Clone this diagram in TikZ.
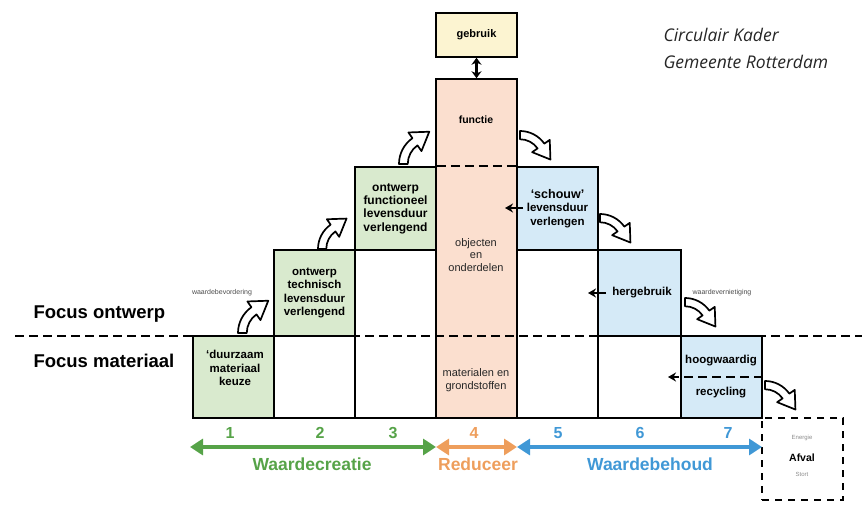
\documentclass[tikz,border=0pt]{standalone}
\usepackage{fontspec}
\setmainfont{Liberation Sans}
\newfontfamily\titelfont{Open Sans}
\usetikzlibrary{arrows.meta}

\definecolor{groenvlak}{RGB}{217,234,206}
\definecolor{roze}{RGB}{251,223,207}
\definecolor{blauwvlak}{RGB}{213,234,247}
\definecolor{geel}{RGB}{252,244,209}
\definecolor{groen}{RGB}{86,163,72}
\definecolor{oranje}{RGB}{238,158,92}
\definecolor{blauw}{RGB}{64,152,214}

\tikzset{
  vak/.style={draw, line width=1.5pt, inner sep=0pt, align=center,
    font=\bfseries\fontsize{11.5}{13.3}\selectfont},
  tekst/.style={align=center, font=\fontsize{11}{12.5}\selectfont, text=black!85},
  streep/.style={line width=2pt, dash pattern=on 9pt off 5pt},
  kortpijl/.style={line width=2.2pt, -{Stealth[length=8pt,width=9pt]}},
  balk/.style={line width=4pt, {Triangle[length=13pt,width=16pt]}-{Triangle[length=13pt,width=16pt]}},
  cijfer/.style={font=\bfseries\fontsize{16}{16}\selectfont},
  fase/.style={font=\bfseries\fontsize{17.5}{18}\selectfont},
  klein/.style={font=\fontsize{7}{7}\selectfont, text=black!70},
  pics/bocht/.style={code={
    \filldraw[fill=white, line width=1.7pt, line join=round, yscale=-1]
      (5,0) arc[start angle=180, end angle=125, radius=13] -- (12.84,7.37)
      -- (17.30,18.44) -- (5.38,18.02) -- (7.67,14.74)
      arc[start angle=125, end angle=180, radius=18] -- cycle;
  }}
}

\begin{document}
\begin{tikzpicture}[x=1pt, y=-1pt]
\useasboundingbox (0,0) rectangle (868,505);

% kolommen
\node[vak, fill=groenvlak, minimum width=81pt, minimum height=82pt] (c1) at (233.5,377) {};
\node[vak, fill=groenvlak, minimum width=81pt, minimum height=86pt] (c2top) at (314.5,293)
  {ontwerp\\technisch\\levensduur\\verlengend};
\node[vak, minimum width=81pt, minimum height=82pt] (c2bot) at (314.5,377) {};
\node[vak, fill=groenvlak, minimum width=81pt, minimum height=83pt, font=\bfseries\fontsize{12}{13.3}\selectfont] (c3top) at (395.5,208.5)
  {ontwerp\\functioneel\\levensduur\\verlengend};
\node[vak, minimum width=81pt, minimum height=168pt] (c3bot) at (395.5,334) {};
\node[vak, fill=roze, minimum width=81pt, minimum height=339pt] (c4) at (476.5,248.5) {};
\node[vak, fill=geel, minimum width=81pt, minimum height=44pt, font=\bfseries\fontsize{11}{12}\selectfont] (gebruik) at (476.5,35) {gebruik};
\node[vak, fill=blauwvlak, minimum width=81pt, minimum height=83pt] (c5top) at (557.5,208.5)
  {{\fontsize{12.5}{13}\selectfont ‘schouw’}\\levensduur\\verlengen};
\node[vak, minimum width=81pt, minimum height=168pt] (c5bot) at (557.5,334) {};
\node[vak, fill=blauwvlak, minimum width=83pt, minimum height=86pt] (c6top) at (639.5,293) {\hspace{5pt}hergebruik};
\node[vak, minimum width=83pt, minimum height=82pt] (c6bot) at (639.5,377) {};
\node[vak, fill=blauwvlak, minimum width=81pt, minimum height=82pt] (c7) at (721.5,377) {};
\node[vak, dash pattern=on 7pt off 6pt, minimum width=81pt, minimum height=82pt] (afval) at (802.5,459) {};

% teksten in de vakken
\node[vak, draw=none] (t1) at (235,368) {‘duurzaam\\materiaal\\keuze};
\node[vak, draw=none, font=\bfseries\fontsize{10.5}{12}\selectfont] (functie) at (476,120) {functie};
\node[tekst] (objecten) at (476,255) {objecten\\en\\onderdelen};
\node[tekst] (materialen) at (476,380) {materialen en\\grondstoffen};
\node[vak, draw=none] (hoog) at (721,361) {hoogwaardig};
\node[vak, draw=none] (recyc) at (721,393) {recycling};
\node[klein, font=\fontsize{6}{6}\selectfont, text=black!45] (energie) at (802,438) {Energie};
\node[vak, draw=none, font=\bfseries\fontsize{10.5}{12}\selectfont] (afvaltekst) at (802,458) {Afval};
\node[klein, font=\fontsize{6}{6}\selectfont, text=black!45] (stort) at (802,474) {Stort};

% streeplijnen
\coordinate (f0) at (15,336);
\coordinate (f1) at (862,336);
\draw[streep] (f0) -- (f1);
\draw[streep] (c3top.north east) -- (c5top.north west);

% pijlen
\draw[line width=2.4pt, {Stealth[length=7pt,width=10pt]}-{Stealth[length=7pt,width=10pt]}] (gebruik) -- (c4);
\coordinate (s5a) at (523,208);
\coordinate (s5b) at (505,208);
\coordinate (s6a) at (606,293);
\coordinate (s6b) at (588,293);
\coordinate (r7) at (668,377);
\draw[kortpijl] (s5a) -- (s5b);
\draw[kortpijl] (s6a) -- (s6b);
\draw[streep, -{Stealth[length=8pt,width=9pt]}] (c7.east) -- (r7);

\pic[scale=1.75] at (238,333) {bocht};
\pic[scale=1.65] at (318,249) {bocht};
\pic[scale=1.75] at (399,164) {bocht};
\pic[scale=1.65, rotate=-90] at (520,131) {bocht};
\pic[scale=1.65, rotate=-90] at (600,214) {bocht};
\pic[scale=1.65, rotate=-90] at (685,298) {bocht};
\pic[scale=1.65, rotate=-90] at (765,381) {bocht};

\node[klein] (bevordering) at (222,293) {waardebevordering};
\node[klein] (vernietiging) at (722,293) {waardevernietiging};

% focus
\node[fase, anchor=west, font=\bfseries\fontsize{18.5}{19}\selectfont] (ontwerp) at (30,314) {Focus ontwerp};
\node[fase, anchor=west, font=\bfseries\fontsize{18.5}{19}\selectfont] (materiaal) at (30,361) {Focus materiaal};

% onderbalk
\coordinate (a0) at (190,447);
\coordinate (a1) at (436,447);
\coordinate (a2) at (517,447);
\coordinate (a3) at (762,447);
\draw[balk, groen] (a0) -- (a1);
\draw[balk, oranje] (a1) -- (a2);
\draw[balk, blauw] (a2) -- (a3);

\node[cijfer, text=groen] (n1) at (230,433) {1};
\node[cijfer, text=groen] (n2) at (320,433) {2};
\node[cijfer, text=groen] (n3) at (393,433) {3};
\node[cijfer, text=oranje] (n4) at (474,433) {4};
\node[cijfer, text=blauw] (n5) at (558,433) {5};
\node[cijfer, text=blauw] (n6) at (640,433) {6};
\node[cijfer, text=blauw] (n7) at (728,433) {7};
\node[fase, text=groen] (creatie) at (312,464) {Waardecreatie};
\node[fase, text=oranje] (reduceer) at (478,464) {Reduceer};
\node[fase, text=blauw] (behoud) at (650,464) {Waardebehoud};

% titel
\node[anchor=west, font=\titelfont\itshape\fontsize{17.5}{20}\selectfont, text=black!85] (titel1) at (660,35) {Circulair Kader};
\node[anchor=west, font=\titelfont\itshape\fontsize{17.5}{20}\selectfont, text=black!85] (titel2) at (660,62) {Gemeente Rotterdam};

\end{tikzpicture}
\end{document}
